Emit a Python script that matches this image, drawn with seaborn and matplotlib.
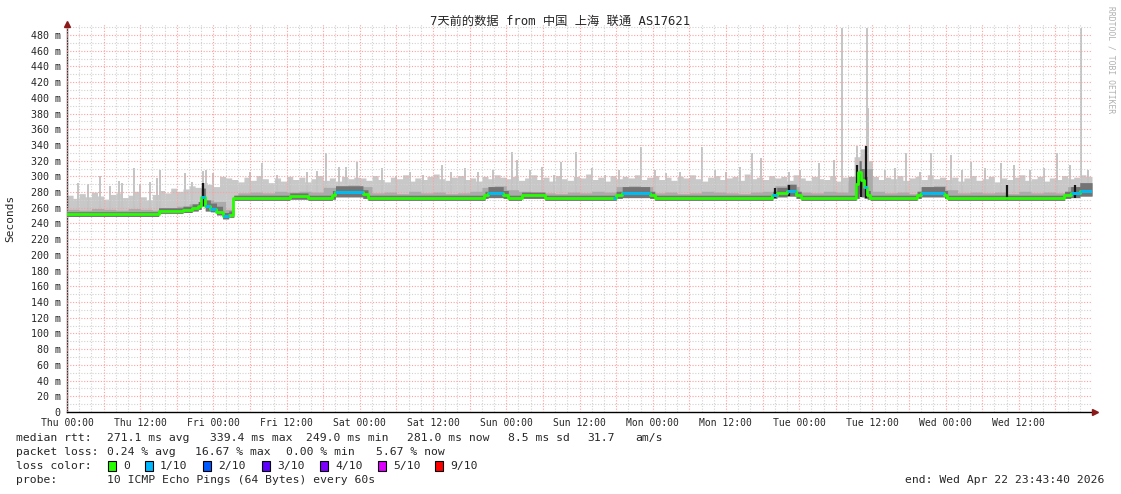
import numpy as np
import pandas as pd
import matplotlib
matplotlib.use("Agg")
import matplotlib.pyplot as plt
from matplotlib.patches import Rectangle
import seaborn as sns

sns.set_style("white")
plt.rcParams["font.family"] = ["DejaVu Sans Mono", "Noto Sans CJK SC"]

# ---------------- data ----------------
title = "7天前的数据 from 中国 上海 联通 AS17621"
tick_hours = [0, 12, 24, 36, 48, 60, 72, 84, 96, 108, 120, 132, 144, 156]
tick_labels = ["Thu 00:00", "Thu 12:00", "Fri 00:00", "Fri 12:00", "Sat 00:00",
               "Sat 12:00", "Sun 00:00", "Sun 12:00", "Mon 00:00", "Mon 12:00",
               "Tue 00:00", "Tue 12:00", "Wed 00:00", "Wed 12:00"]

# median rtt as step segments (start hour, ms, loss in tenths)
seg_start_h = [0, 15, 19, 20.5, 21.5, 22, 22.6, 23.5, 24.5, 25.5, 26.5, 27.2, 36.5, 39.5,
               43.4, 44, 48.5, 49.3, 68.4, 69, 71.5, 72.2, 74.5, 78.3, 89.5, 90, 91, 95.5,
               96.3, 115.6, 116.3, 118, 119.5, 120.3, 129.3, 129.7, 130.1, 130.6, 131.1,
               131.6, 139.3, 140, 143.8, 144.3, 163.4, 164.5, 166]
seg_median_ms = [252, 256, 257.5, 260, 262, 274, 262, 259, 255, 249, 251, 272.5, 275, 272.5,
                 276, 280, 277, 272.5, 276, 279, 276, 272.5, 276, 272.5, 272.5, 276, 279, 276,
                 272.5, 276, 279, 281, 276, 272.5, 290, 305, 295, 287, 276,
                 272.5, 276, 279, 276, 272.5, 276, 279, 282]
seg_min_ms = [249, 253, 254, 256, 258, 262, 256, 255, 251, 246, 248, 269.5, 271, 269.5,
              271, 274, 272, 269.5, 272, 273, 272, 269.5, 272, 269.5, 269.5, 272, 273, 272,
              269.5, 272, 274, 275, 272, 269.5, 272, 278, 274, 272, 271,
              269.5, 272, 274, 272, 269.5, 272, 273, 275]
seg_dark_ms = [255, 260, 262, 265, 268, 285, 270, 266, 262, 254, 256, 276, 279, 276,
               282, 288, 283, 276, 281, 287, 282, 276, 280, 276, 276, 281, 287, 281,
               276, 281, 286, 290, 281, 276, 300, 320, 310, 300, 282,
               276, 281, 287, 282, 276, 281, 287, 292]
seg_loss = [0, 0, 0, 0, 0, 1, 1, 1, 0, 1, 0, 0, 0, 0,
            0, 1, 0, 0, 0, 1, 0, 0, 0, 0, 1, 0, 1, 0,
            0, 1, 0, 1, 0, 0, 0, 0, 0, 1, 0,
            0, 0, 1, 0, 0, 0, 1, 1]

# hourly top of the dense smoke (ms)
smoke_top_ms = [276, 272, 278, 274, 280, 275, 271, 277, 279, 273, 276, 281, 274, 270, 277,
                282, 279, 285, 281, 284, 288, 286, 292, 290, 287, 300, 298,
                296, 293, 299, 295, 301, 297, 292, 298, 294, 300, 296, 299, 293, 297, 301, 295, 298, 294, 300, 297, 299,
                298, 295, 301, 296, 293, 299, 297, 302, 294, 298, 296, 300, 303, 297, 295, 299, 301, 296, 298, 294, 300, 297, 302, 299,
                297, 300, 295, 298, 302, 296, 299, 294, 301, 297, 295, 300, 298, 303, 296, 299, 294, 301, 297, 300, 298, 302, 296, 299,
                301, 296, 299, 295, 300, 298, 302, 297, 294, 299, 301, 296, 298, 300, 295, 303, 297, 299, 296, 301, 298, 300, 295, 302,
                298, 295, 300, 297, 296, 301, 294, 299, 293, 325, 335, 320, 300, 296, 299, 297, 301, 295, 298, 300, 296, 302, 297, 299,
                296, 299, 294, 298, 301, 295, 297, 300, 293, 298, 296, 299, 302, 295, 297, 300, 294, 298, 296, 301, 297, 299, 302, 300]

# 2-hourly top of the medium-grey smoke (ms)
smoke_mid_ms = [258, 257, 259, 258, 257, 259, 258, 257,
                260, 262, 265, 270, 268, 258,
                279, 280, 279, 281, 280, 281, 280,
                286, 288, 289, 287,
                279, 280, 278, 281, 279, 280, 278, 279, 281,
                286, 288, 283,
                281, 280, 279, 278, 280, 279, 281, 280,
                287, 288, 287,
                279, 280, 278, 279, 281, 280, 279, 278, 280, 281,
                288, 287,
                280, 279, 281, 280,
                300, 310,
                281, 279, 280, 278, 287, 288,
                283, 279, 280,
                279, 280, 278, 281, 279, 280, 279,
                287, 290]

# single tall ping spikes (hour, ms)
spike_h = [1.8, 3.4, 5.4, 7.0, 8.5, 9.0, 11.0, 12.0, 13.6, 14.8, 15.2, 19.3, 20.5, 22.3,
           22.8, 24.0, 30.0, 31.9, 34.4, 36.6, 39.3, 41.0, 42.4, 44.6, 45.8, 47.6,
           51.6, 53.9, 56.2, 58.4, 61.4, 62.9, 65.2, 67.4, 69.8, 72.9, 73.8, 75.9, 77.8,
           79.8, 81.0, 83.5, 86.1, 88.2, 90.5, 94.0, 96.4, 98.2, 100.5, 104.1, 106.2,
           108.0, 110.3, 112.3, 113.8, 118.4, 120.1, 123.3, 125.7, 127.0, 129.5, 131.1,
           131.3, 134.1, 135.7, 137.5, 139.8, 141.6, 144.9, 146.7, 148.2, 150.5, 153.1,
           155.2, 157.8, 160.1, 162.2, 164.4, 166.2, 167.3]
spike_ms = [292, 290, 300, 288, 294, 292, 311, 290, 293, 298, 308, 304, 293, 307,
            308, 304, 306, 317, 302, 298, 306, 307, 330, 312, 312, 318,
            311, 300, 306, 302, 314, 306, 311, 306, 308, 331, 321, 308, 312,
            302, 318, 331, 311, 302, 308, 337, 308, 304, 306, 337, 308,
            306, 312, 330, 323, 306, 308, 317, 321, 489, 339, 489,
            387, 308, 311, 330, 306, 330, 327, 308, 318, 311, 317,
            314, 308, 311, 330, 314, 489, 308]

# near-black spikes (hour, ms)
dark_spike_h = [22.3, 116.1, 118.4, 129.5, 130.2, 130.9, 154.0, 165.2]
dark_spike_ms = [292, 285, 289, 314, 305, 339, 289, 289]

loss_colors = {0: "#26ff00", 1: "#00b8ff", 2: "#0059ff", 3: "#5e00ff",
               4: "#7e00ff", 5: "#dd00ff", 9: "#ff0000"}
loss_labels = ["0", "1/10", "2/10", "3/10", "4/10", "5/10", "9/10"]

# ---------------- figure ----------------
W, H = 1121, 494
fig = plt.figure(figsize=(W / 100, H / 100), dpi=100)
fig.patch.set_facecolor("white")
L, R, B, T = 67, 1092, 412, 24
ax = fig.add_axes([L / W, (H - B) / H, (R - L) / W, (B - T) / H])
ax.set_xlim(0, 168)
ax.set_ylim(0, 494)

# grid
for h in range(0, 169, 2):
    major = h % 6 == 0
    ax.axvline(h, color="#ffa0a0" if major else "#d2d2d2", lw=0.8,
               ls=(0, (1, 1.5)), zorder=3 if major else 2)
for v in range(10, 494, 10):
    major = v % 20 == 0
    ax.axhline(v, color="#ffa0a0" if major else "#d2d2d2", lw=0.8,
               ls=(0, (1, 1.5)), zorder=3 if major else 2)

# smoke on a 10-minute lookup grid
t = np.arange(0, 168 + 1e-9, 1 / 6)
idx = np.clip(np.searchsorted(seg_start_h, t, side="right") - 1, 0, len(seg_start_h) - 1)
med_t = np.asarray(seg_median_ms)[idx]
floor_t = np.asarray(seg_min_ms)[idx]
dark_t = np.asarray(seg_dark_ms)[idx]
top_t = np.asarray(smoke_top_ms)[np.clip(t.astype(int), 0, 167)]
mid_t = np.asarray(smoke_mid_ms)[np.clip((t // 2).astype(int), 0, 83)]
top_t = np.maximum(top_t, med_t + 4)
mid_t = np.maximum(mid_t, dark_t)

ax.fill_between(t, floor_t, top_t, step="post", color="#c8c8c8", lw=0, zorder=1)
sidx = np.clip(np.searchsorted(seg_start_h, spike_h, side="right") - 1, 0, len(seg_start_h) - 1)
ax.vlines(spike_h, np.asarray(seg_median_ms)[sidx], spike_ms, color="#c4c4c4", lw=1.4, zorder=1)
ax.fill_between(t, floor_t, mid_t, step="post", color="#ababab", lw=0, zorder=4)
ax.fill_between(t, floor_t, dark_t, step="post", color="#747474", lw=0, zorder=4.5)
didx = np.clip(np.searchsorted(seg_start_h, dark_spike_h, side="right") - 1, 0, len(seg_start_h) - 1)
ax.vlines(dark_spike_h, np.asarray(seg_min_ms)[didx], dark_spike_ms, color="#151515", lw=1.6, zorder=4.8)

# median line
seg_end_h = seg_start_h[1:] + [168]
df = pd.DataFrame({"hour": seg_start_h + [168], "ms": seg_median_ms + [seg_median_ms[-1]]})
sns.lineplot(data=df, x="hour", y="ms", ax=ax, color=loss_colors[0], lw=2,
             drawstyle="steps-post", estimator=None, zorder=5)
for s, e, m, l in zip(seg_start_h, seg_end_h, seg_median_ms, seg_loss):
    if l > 0:
        ax.hlines(m, s, e, color=loss_colors[l], lw=2, zorder=6)

# axes styling
for sp in ["top", "right"]:
    ax.spines[sp].set_visible(False)
ax.spines["left"].set_color("#333333")
ax.spines["bottom"].set_color("black")
ax.spines["left"].set_linewidth(1)
ax.spines["bottom"].set_linewidth(1)
ax.set_xticks(tick_hours)
ax.set_xticklabels(tick_labels, fontsize=7.0)
yt = list(range(0, 481, 20))
ax.set_yticks(yt)
ax.set_yticklabels(["0" if v == 0 else f"{v} m" for v in yt], fontsize=7.2)
ax.tick_params(axis="both", length=2, width=0.8, color="#333333", pad=2.5)
ax.set_xlabel("")
ax.set_ylabel("")

# axis arrows
ax.plot([0], [1.0], marker="^", ms=4, color="#8b1a1a", transform=ax.transAxes, clip_on=False, zorder=10)
ax.plot([1.003], [0], marker=">", ms=4, color="#8b1a1a", transform=ax.transAxes, clip_on=False, zorder=10)

# texts
def fy(y):
    return 1 - y / H

fig.text(0.5, fy(21), title, ha="center", va="center", fontsize=8.8,
         family=["DejaVu Sans Mono", "Noto Sans CJK SC"])
fig.text(10 / W, fy(218), "Seconds", rotation=90, ha="center", va="center", fontsize=8.0)
fig.text(1111 / W, fy(60), "RRDTOOL / TOBI OETIKER", rotation=-90, ha="center", va="center",
         fontsize=5.8, color="#b0b0b0")

fs = 8.2
line1 = [(16, "median rtt:"), (107, "271.1 ms avg"), (210, "339.4 ms max"), (306, "249.0 ms min"),
         (407, "281.0 ms now"), (508, "8.5 ms sd"), (587, "31.7"), (635, "am/s")]
line2 = [(16, "packet loss:"), (107, "0.24 % avg"), (195, "16.67 % max"), (286, "0.00 % min"),
         (376, "5.67 % now")]
for x, s in line1:
    fig.text(x / W, fy(438), s, ha="left", va="center", fontsize=fs)
for x, s in line2:
    fig.text(x / W, fy(452), s, ha="left", va="center", fontsize=fs)
fig.text(16 / W, fy(466), "loss color:", ha="left", va="center", fontsize=fs)
sq_x = [108, 145, 203, 262, 320, 378, 435]
for x, lab, key in zip(sq_x, loss_labels, [0, 1, 2, 3, 4, 5, 9]):
    fig.add_artist(Rectangle((x / W, fy(471)), 8 / W, 10 / H, transform=fig.transFigure,
                             facecolor=loss_colors[key], edgecolor="black", lw=0.8))
    fig.text((x + 15) / W, fy(466), lab, ha="left", va="center", fontsize=fs)
fig.text(16 / W, fy(480), "probe:", ha="left", va="center", fontsize=fs)
fig.text(107 / W, fy(480), "10 ICMP Echo Pings (64 Bytes) every 60s", ha="left", va="center", fontsize=fs)
fig.text(1104 / W, fy(480), "end: Wed Apr 22 23:43:40 2026", ha="right", va="center", fontsize=fs)

fig.savefig("out.png", dpi=100, facecolor="white")
